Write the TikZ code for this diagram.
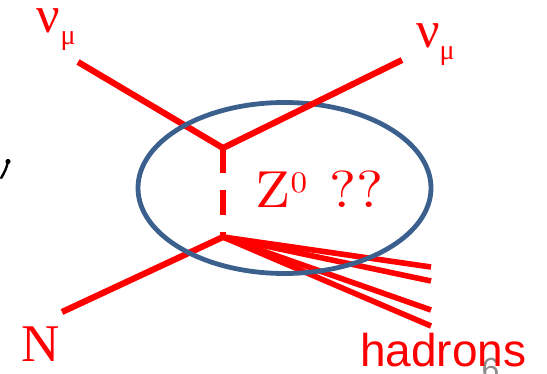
\documentclass[tikz,border=0pt]{standalone}
\usepackage{fontspec}
\usetikzlibrary{shapes.geometric}
\newfontfamily\tnr{Liberation Serif}
\newfontfamily\arial{Liberation Sans}
\newfontfamily\lmten{lmroman10-regular.otf}
\definecolor{ellblue}{RGB}{60,96,142}
\definecolor{slidegray}{RGB}{140,140,140}
\begin{document}
\begin{tikzpicture}[x=1pt,y=-1pt,
  fline/.style={red, line width=6.2pt},
  hline/.style={red, line width=5.6pt},
  lbl/.style={red, inner sep=0pt, outer sep=0pt, anchor=base west}]
\useasboundingbox (0,0) rectangle (547,374);
% vertices and free ends
\coordinate (v1) at (223,148);
\coordinate (v2) at (223,237);
\coordinate (nuin) at (78,62);
\coordinate (nuout) at (402,60);
\coordinate (nin) at (62,312);
\coordinate (h1) at (431,267);
\coordinate (h2) at (431,281);
\coordinate (h3) at (431,310);
\coordinate (h4) at (431,326);
% slide number behind text
\node[anchor=base west, inner sep=0pt, text=slidegray] (slnum) at (481.5,381)
  {\arial\fontsize{32}{32}\selectfont 6};
% lines under the bubble
\draw[fline] (nuin) -- (v1);
\draw[fline] (nin) -- (v2);
\draw[hline] (v2) -- (h1);
\draw[hline] (v2) -- (h2);
\draw[hline] (v2) -- (h3);
\draw[hline] (v2) -- (h4);
% bubble
\node[draw=ellblue, line width=4.8pt, ellipse, inner sep=0pt,
  minimum width=293pt, minimum height=171pt] (bubble) at (284.5,188) {};
% lines over the bubble
\draw[fline] (v1) -- (nuout);
\draw[red, line width=5.6pt, dash pattern=on 25pt off 17pt] (v1) -- (v2);
% labels
\node[lbl] (nu1) at (37,33)
  {\tnr\fontsize{52}{52}\selectfont ν\raisebox{-12pt}{\fontsize{28}{28}\selectfont μ}};
\node[lbl] (nu2) at (416,48)
  {\tnr\fontsize{52}{52}\selectfont ν\raisebox{-12pt}{\fontsize{28}{28}\selectfont μ}};
\node[lbl] (nlab) at (21,362) {\tnr\fontsize{53}{53}\selectfont N};
\node[lbl] (zlab) at (255.7,208)
  {\scalebox{1.1}[1]{\lmten\fontsize{52}{52}\selectfont Z\raisebox{15.5pt}{\fontsize{30}{30}\selectfont 0}\hspace{20.5pt}??}};
\node[lbl] (hlab) at (360,367) {\arial\fontsize{46}{46}\selectfont hadrons};
% cut-off glyph at left edge
\draw[black, line width=2.4pt, line cap=round] (8,161) .. controls (7,168) and (4,173) .. (1.2,178);
\fill[black] (8,161.5) circle (2.6pt);
\end{tikzpicture}
\end{document}
